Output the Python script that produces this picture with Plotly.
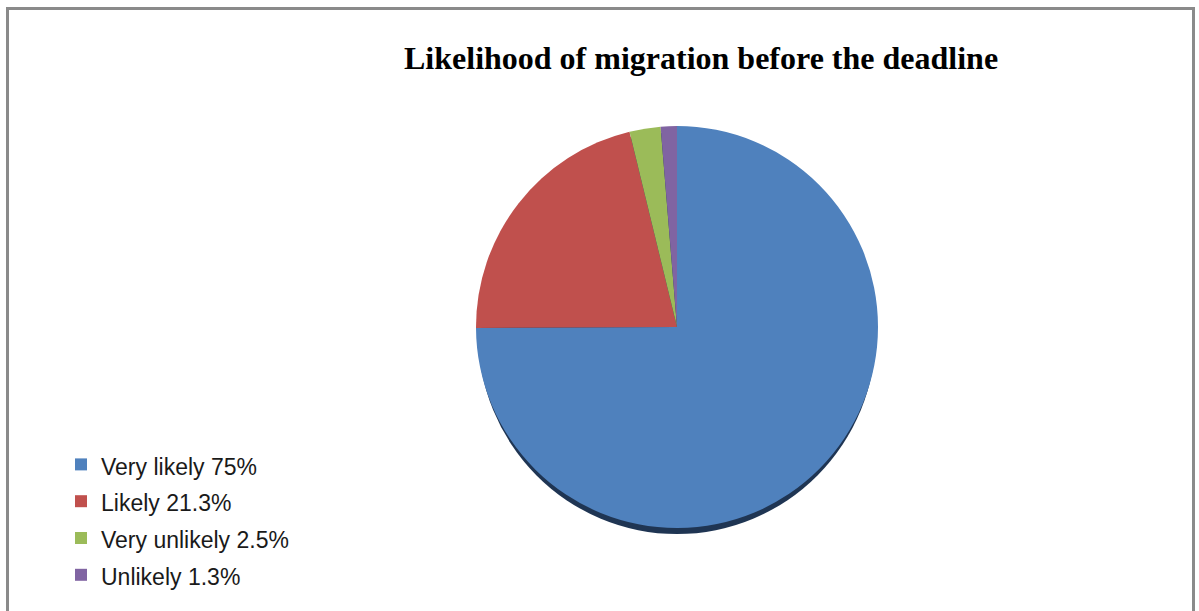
import plotly.graph_objects as go

# Survey answers and their shares (percent)
labels = ["Very likely", "Likely", "Very unlikely", "Unlikely"]
shares = [75, 21.3, 2.5, 1.3]
colors = ["#4F81BD", "#C0504D", "#9BBB59", "#8064A2"]

W, H = 1199, 611

def px_x(v):
    return v / W

def px_y(v):
    return 1 - v / H

# pie geometry in pixels
cx, cy, r = 677, 327, 201

# legend entries: text drawn a bit smaller than the legend font so rows sit further apart
legend_text = [
    f"<span style='font-size:23px'>{lab} {val:g}%</span>" for lab, val in zip(labels, shares)
]

fig = go.Figure()
fig.add_trace(go.Pie(
    labels=legend_text,
    values=shares,
    sort=False,
    direction="clockwise",
    rotation=0,
    marker=dict(colors=colors, line=dict(width=0)),
    textinfo="none",
    hoverinfo="skip",
    domain=dict(x=[px_x(cx - r), px_x(cx + r)], y=[px_y(cy + r), px_y(cy - r)]),
))

shapes = [
    # dark rim under the pie
    dict(type="circle", xref="paper", yref="paper", layer="below",
         x0=px_x(cx - r + 2), x1=px_x(cx + r - 2),
         y0=px_y(cy + r + 6), y1=px_y(cy - r + 6),
         fillcolor="#1F3553", line=dict(width=0)),
    # chart frame
    dict(type="rect", xref="paper", yref="paper", layer="above",
         x0=px_x(7.5), x1=px_x(1193.5), y0=px_y(640), y1=px_y(8.5),
         line=dict(color="#8A8A8A", width=3), fillcolor="rgba(0,0,0,0)"),
]

fig.update_layout(
    width=W, height=H,
    margin=dict(l=0, r=0, t=0, b=0),
    paper_bgcolor="white",
    plot_bgcolor="white",
    shapes=shapes,
    showlegend=True,
    legend=dict(
        x=px_x(61), y=px_y(441), xanchor="left", yanchor="top",
        font=dict(family="Liberation Sans, Arial, sans-serif", size=26, color="#1a1a1a"),
        bgcolor="rgba(0,0,0,0)", borderwidth=0,
    ),
    annotations=[dict(
        text="<b>Likelihood of migration before the deadline</b>",
        xref="paper", yref="paper", x=px_x(701), y=px_y(58),
        xanchor="center", yanchor="middle", showarrow=False,
        font=dict(family="Liberation Serif, Times New Roman, serif", size=32, color="black"),
    )],
)

fig.write_html("out.html")
